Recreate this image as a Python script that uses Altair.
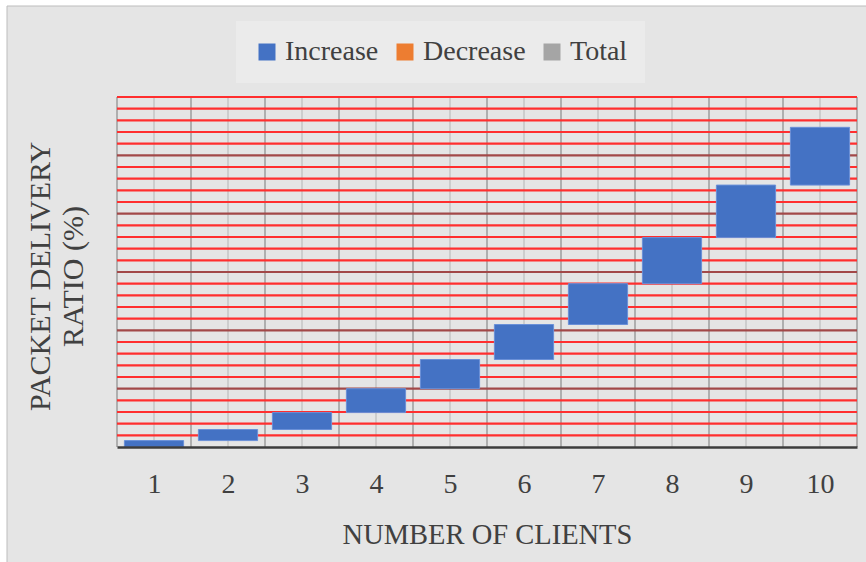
import altair as alt
import pandas as pd

# ---- data ----
clients = [1, 2, 3, 4, 5, 6, 7, 8, 9, 10]
bar_start = [0.0, 0.55, 1.5, 2.95, 5.0, 7.5, 10.5, 14.0, 17.95, 22.45]
bar_end = [0.55, 1.5, 2.95, 5.0, 7.5, 10.5, 14.0, 17.95, 22.45, 27.4]
bar_kind = ["Increase"] * 10
legend_labels = ["Increase", "Decrease", "Total"]
legend_colors = ["#4472C4", "#ED7D31", "#A5A5A5"]
grid_levels = list(range(1, 31))
category_bounds = [0.5, 1.5, 2.5, 3.5, 4.5, 5.5, 6.5, 7.5, 8.5, 9.5, 10.5]

FONT = "Liberation Serif"
TXT = "#404040"

bars_df = pd.DataFrame({"client": clients, "start": bar_start, "end": bar_end, "kind": bar_kind})
grid_df = pd.DataFrame({"v": grid_levels})
bounds_df = pd.DataFrame({"b": category_bounds})
centers_df = pd.DataFrame({"c": clients})

x_scale = alt.Scale(domain=[0.5, 10.5], nice=False, zero=False)
y_scale = alt.Scale(domain=[0, 30], nice=False, zero=True)

x_axis = alt.Axis(
    values=clients, format="d", grid=False, ticks=False, zindex=2,
    labelFont=FONT, labelFontSize=28, labelColor=TXT, labelBaseline="alphabetic",
    labelPadding=45, labelFlush=False, labelOverlap=False,
    domainColor="#3c3c3c", domainWidth=2.5,
    title="NUMBER OF CLIENTS", titleFont=FONT, titleFontSize=28.5, titleFontWeight="normal",
    titleColor=TXT, titleX=370, titleY=96, titleBaseline="alphabetic", titleAlign="center",
)
y_axis = alt.Axis(
    labels=False, ticks=False, domain=False, grid=False, zindex=2,
    title=["PACKET DELIVERY", "RATIO (%)"], titleFont=FONT, titleFontSize=30,
    titleFontWeight="normal", titleColor=TXT, titleX=-92, titleY=179,
    titleBaseline="top", titleAlign="center", titleLineHeight=33, titleAngle=270,
)

frame = alt.Chart(pd.DataFrame({"a": [0]})).mark_rect(
    fill="#e5e5e5", stroke="#bdbdbd", strokeWidth=1
).encode(x=alt.value(-110), x2=alt.value(800), y=alt.value(-91), y2=alt.value(500))

centers = alt.Chart(centers_df).mark_rule(color="#c4c4c4", strokeWidth=1.5).encode(
    x=alt.X("c:Q", scale=x_scale, axis=x_axis)
)
bounds = alt.Chart(bounds_df).mark_rule(color="#9c9c9c", strokeWidth=1.5).encode(
    x=alt.X("b:Q", scale=x_scale, axis=x_axis)
)
hlines = alt.Chart(grid_df).mark_rule(strokeWidth=2.2).encode(
    y=alt.Y("v:Q", scale=y_scale, axis=y_axis),
    color=alt.condition("datum.v % 5 == 0 && datum.v < 30", alt.value("#a24848"), alt.value("#ff2e2e")),
)
bars = alt.Chart(bars_df).mark_bar(stroke="#6a90d8", strokeWidth=1).transform_calculate(
    x0="datum.client - 0.4", x1="datum.client + 0.4"
).encode(
    x=alt.X("x0:Q", scale=x_scale, axis=x_axis),
    x2="x1:Q",
    y=alt.Y("start:Q", scale=y_scale, axis=y_axis),
    y2="end:Q",
    color=alt.Color(
        "kind:N",
        scale=alt.Scale(domain=legend_labels, range=legend_colors),
        legend=alt.Legend(
            orient="none", legendX=119, legendY=-76, direction="horizontal", title=None,
            symbolType="square", symbolSize=289, symbolStrokeWidth=0, symbolOpacity=1,
            labelFont=FONT, labelFontSize=28, labelColor=TXT, labelOffset=4,
            columnPadding=12, padding=17, fillColor="#ebebeb",
        ),
    ),
)

chart = alt.layer(frame, centers, bounds, hlines, bars).properties(
    width=740, height=350,
    autosize=alt.AutoSizeParams(type="none"),
    padding={"left": 117, "top": 97, "right": 9, "bottom": 115},
    background="white",
).configure_view(strokeWidth=0)

chart.save("out.html", embed_options={"renderer": "svg", "actions": False})
